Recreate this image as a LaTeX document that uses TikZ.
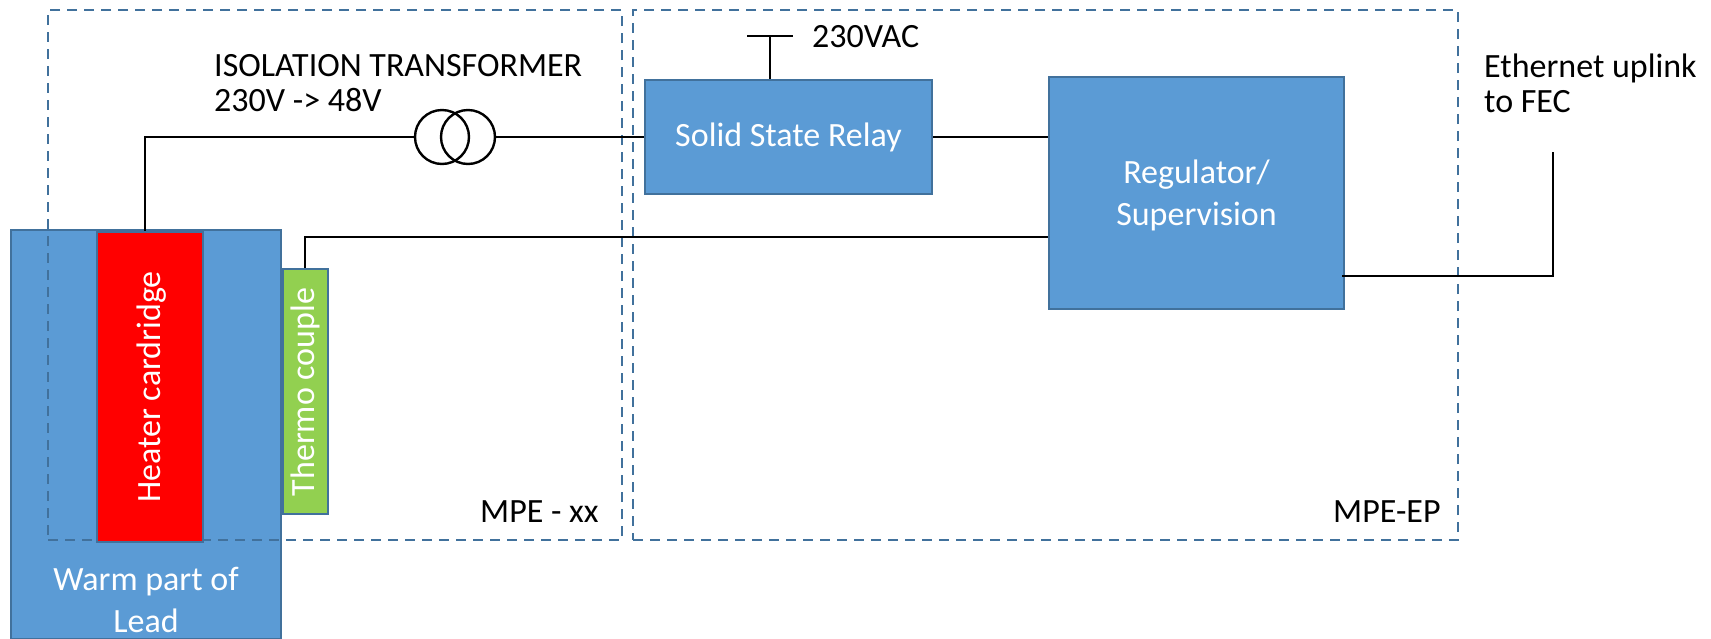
\documentclass[tikz,border=0pt]{standalone}
\usepackage{fontspec}
\setmainfont{Carlito}
\definecolor{boxblue}{HTML}{5B9BD5}
\definecolor{edgeblue}{HTML}{41719C}
\definecolor{heaterred}{HTML}{FF0000}
\definecolor{thermogreen}{HTML}{92D050}
\tikzset{
  blockbox/.style={draw=edgeblue,line width=2.4pt,fill=boxblue,text=white,inner sep=0pt,align=center,font=\fontsize{34}{35}\selectfont},
  plainlabel/.style={inner sep=0pt,align=left,anchor=west,font=\fontsize{34}{35}\selectfont},
  whitelabel/.style={inner sep=0pt,align=center,text=white,font=\fontsize{34}{42}\selectfont},
  zonebox/.style={draw=edgeblue,line width=2pt,dash pattern=on 10pt off 7pt,inner sep=0pt},
  wire/.style={draw=black,line width=2.6pt},
  coil/.style={circle,draw=black,line width=2.4pt,minimum size=54pt,inner sep=0pt}
}
\begin{document}
\begin{tikzpicture}[x=1pt,y=-1pt]
\useasboundingbox (0,0) rectangle (1711,638);
% Lead
\node[blockbox,minimum width=270pt,minimum height=409pt] (lead) at (146,434.5) {};
\node[whitelabel] (leadtext) at (146,600) {Warm part of\\Lead};
% Zones
\node[zonebox,minimum width=574pt,minimum height=530pt] (zoneA) at (335,275) {};
\node[zonebox,minimum width=825pt,minimum height=530pt] (zoneB) at (1045.5,275) {};
% Blocks
\node[blockbox,draw=edgeblue,fill=heaterred,minimum width=106pt,minimum height=310pt] (heater) at (150,387) {};
\node[whitelabel,rotate=90] (heatertext) at (152,387) {Heater cardridge};
\node[blockbox,fill=thermogreen,minimum width=45pt,minimum height=245pt] (thermo) at (305.5,391.5) {};
\node[whitelabel,rotate=90] (thermotext) at (305,392) {Thermo couple};
\node[blockbox,minimum width=287pt,minimum height=114pt] (relay) at (788.5,137) {\raisebox{-1pt}{Solid State Relay}};
\node[blockbox,minimum width=295pt,minimum height=232pt] (reg) at (1196.5,193) {};
\node[whitelabel] (regtext) at (1196.5,195) {Regulator/\\Supervision};
% Transformer
\node[coil] (xfa) at (442,137) {};
\node[coil] (xfb) at (468,137) {};
% Labels
\node[plainlabel] (isolabel) at (214,83) {ISOLATION TRANSFORMER\\230V -> 48V};
\node[plainlabel] (acv) at (812,37) {230VAC};
\node[plainlabel] (eth) at (1484,83) {Ethernet uplink\\to FEC};
\node[plainlabel] (mpexx) at (480,512) {MPE - xx};
\node[plainlabel] (mpeep) at (1333,512) {MPE-EP};
% Connectors
\coordinate (bend) at (145,137);
\draw[wire] (heater.north -| bend) -- (bend) -- (xfa.west);
\draw[wire] (xfb.east) -- (relay.west);
\draw[wire] (relay.east) -- (relay.east -| reg.west);
\coordinate (acbus) at (770,36);
\coordinate (acl) at (747,36);
\coordinate (acr) at (793,36);
\draw[wire] (relay.north -| acbus) -- (acbus);
\draw[wire] (acl) -- (acr);
\coordinate (tbend) at (305,237);
\draw[wire] (thermo.north -| tbend) -- (tbend) -- (tbend -| reg.west);
\coordinate (ethstart) at (1342,276);
\coordinate (ethcorner) at (1553,276);
\coordinate (ethend) at (1553,152);
\draw[wire] (ethstart) -- (ethcorner) -- (ethend);
\end{tikzpicture}
\end{document}
